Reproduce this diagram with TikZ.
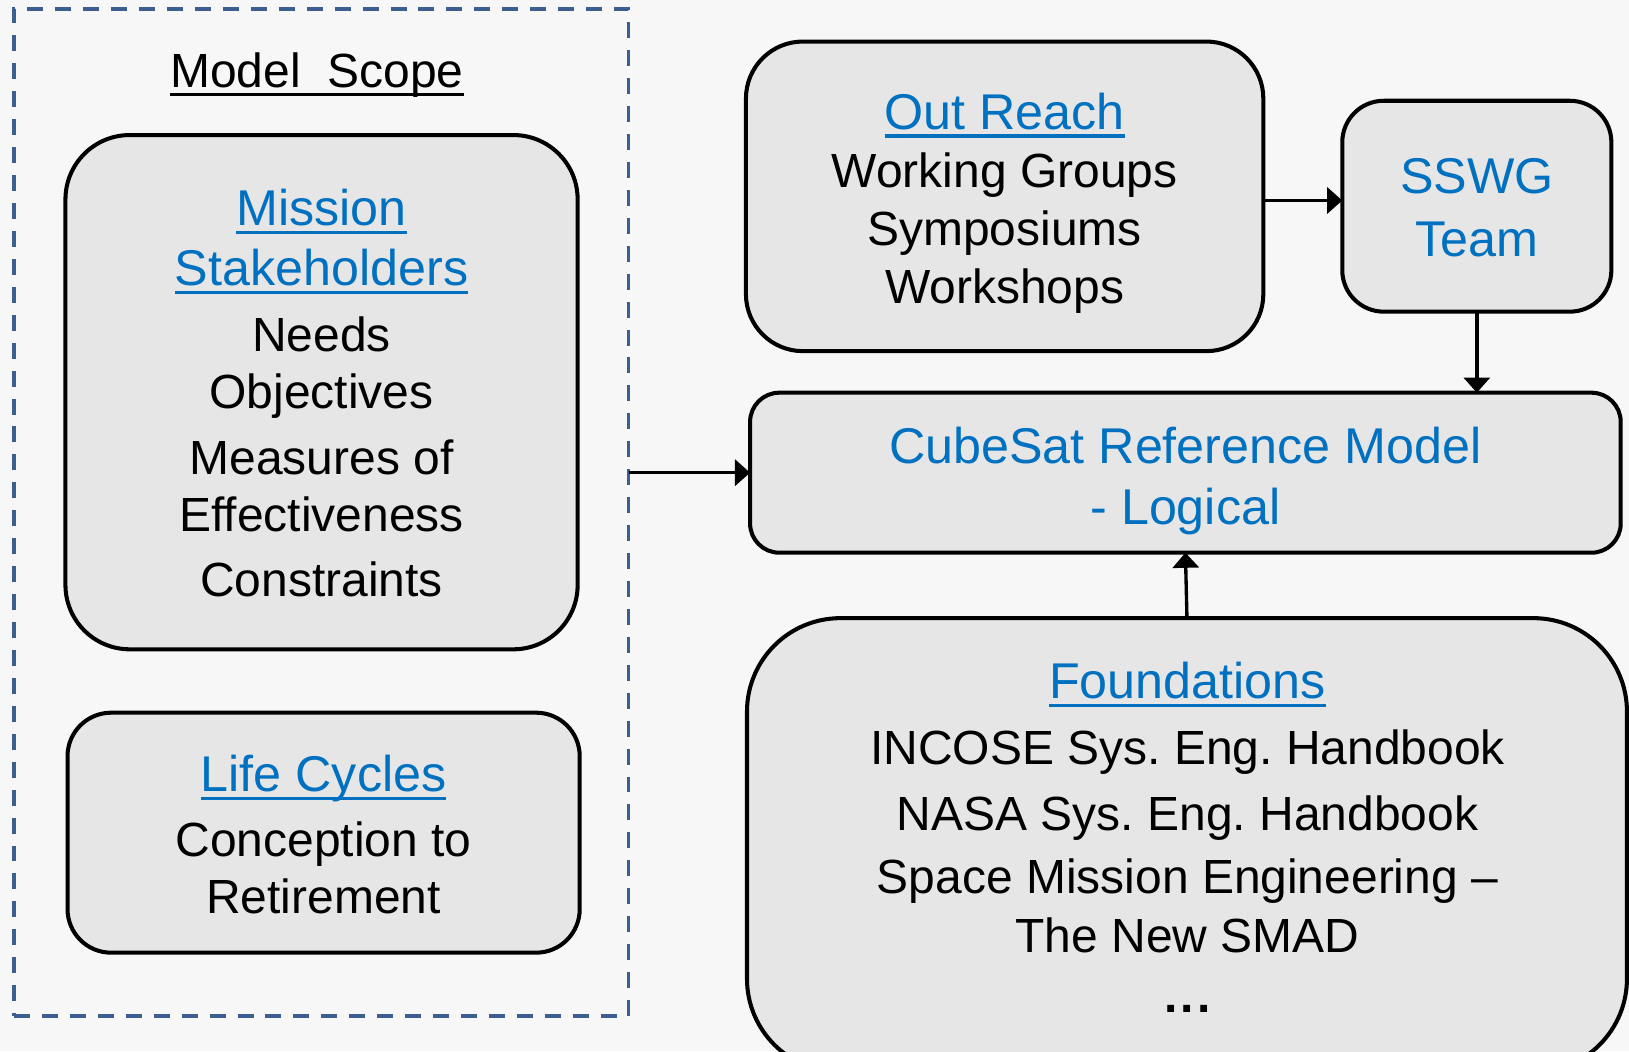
\documentclass[tikz,border=0pt]{standalone}
\usepackage{fontspec}
\setmainfont{Liberation Sans}
\usetikzlibrary{arrows.meta,fit}

\definecolor{pagebg}{RGB}{247,247,247}
\definecolor{boxfill}{RGB}{230,230,230}
\definecolor{titleblue}{RGB}{0,112,192}
\definecolor{scopeblue}{RGB}{60,95,144}

% underline drawn at a fixed distance below the baseline
\newcommand\ulx[1]{\leavevmode\setbox0\hbox{#1}\rlap{\rule[-0.165em]{\wd0}{0.065em}}\box0}
\newcommand\titlefont{\fontsize{14.3pt}{17pt}\selectfont}
\newcommand\ttl[1]{{\titlefont\color{titleblue}\ulx{#1}}}
\newcommand\btl[1]{{\titlefont\color{titleblue}#1}}
\newcommand\moredots{\textbf{.\kern0.07em.\kern0.07em.}}

\tikzset{
  roundbox/.style={draw=black, line width=1.15pt, fill=boxfill, inner sep=0pt, outer sep=0pt},
  scopebox/.style={draw=scopeblue, line width=1.1pt, dash pattern=on 4.55pt off 3.4pt, inner sep=0pt, outer sep=0pt},
  txt/.style={align=center, inner sep=0pt, font=\fontsize{13.65pt}{16.4pt}\selectfont\frenchspacing},
  arr/.style={line width=0.95pt, -{Triangle[length=4.3pt,width=7.4pt]}}
}

\begin{document}
\begin{tikzpicture}[x=0.01039cm, y=-0.01039cm]
  \useasboundingbox (0,0) rectangle (1568,1012);
  \clip (0,0) rectangle (1568,1012);
  \fill[pagebg] (0,0) rectangle (1568,1012);

  % model scope frame
  \node[scopebox, fit={(13.5,8.5) (605,978)}] (scope) {};
  \node[txt, anchor=base] (scopetitle) at (305,84.5) {\ulx{Model~~Scope}};

  % boxes
  \node[roundbox, rounded corners=18.3pt, fit={(63,130) (556,625)}] (mission) {};
  \node[roundbox, rounded corners=12.4pt, fit={(65,686) (558,917)}] (life) {};
  \node[roundbox, rounded corners=16.2pt, fit={(718,40) (1216,338)}] (out) {};
  \node[roundbox, rounded corners=11.8pt, fit={(1292,97) (1551,300)}] (sswg) {};
  \node[roundbox, rounded corners=8.3pt, fit={(722,378) (1560,532)}] (cube) {};
  \node[roundbox, rounded corners=26.6pt, fit={(719,595) (1566,1032)}] (found) {};

  % box texts
  \node[txt] (missiontxt) at (309.5,378.5) {\ttl{Mission}\\[0.7pt]\ttl{Stakeholders}\\[2.25pt]Needs\\Objectives\\[2.2pt]Measures of\\Effectiveness\\[2pt]Constraints};
  \node[txt] (lifetxt) at (311.5,803.6) {\ttl{Life Cycles}\\[1.95pt]Conception to\\Retirement};
  \node[txt] (outtxt) at (967,195.4) {\ttl{Out Reach}\\[0.2pt]Working Groups\\Symposiums\\Workshops};
  \node[txt] (sswgtxt) at (1421.5,200) {\btl{SSWG}\\[1.3pt]\btl{Team}};
  \node[txt] (cubetxt) at (1141,462.6) {\btl{CubeSat Reference Model}\\[1pt]\btl{- Logical}};
  \node[txt] (foundtxt) at (1143,806) {\ttl{Foundations}\\[2.25pt]INCOSE Sys. Eng. Handbook\\[2.35pt]NASA Sys. Eng. Handbook\\[1.6pt]Space Mission Engineering --\\[0.45pt]The New SMAD\\[0.65pt]\moredots};

  % connectors
  \coordinate (outy) at (0,193);
  \draw[arr] (scope.east |- cube.west) -- (cube.west);
  \draw[arr] (out.east |- outy) -- (sswg.west |- outy);
  \draw[arr] (sswg.south) -- (sswg.south |- cube.north);
  \draw[arr] (found.north) -- (cube.south);
\end{tikzpicture}
\end{document}
